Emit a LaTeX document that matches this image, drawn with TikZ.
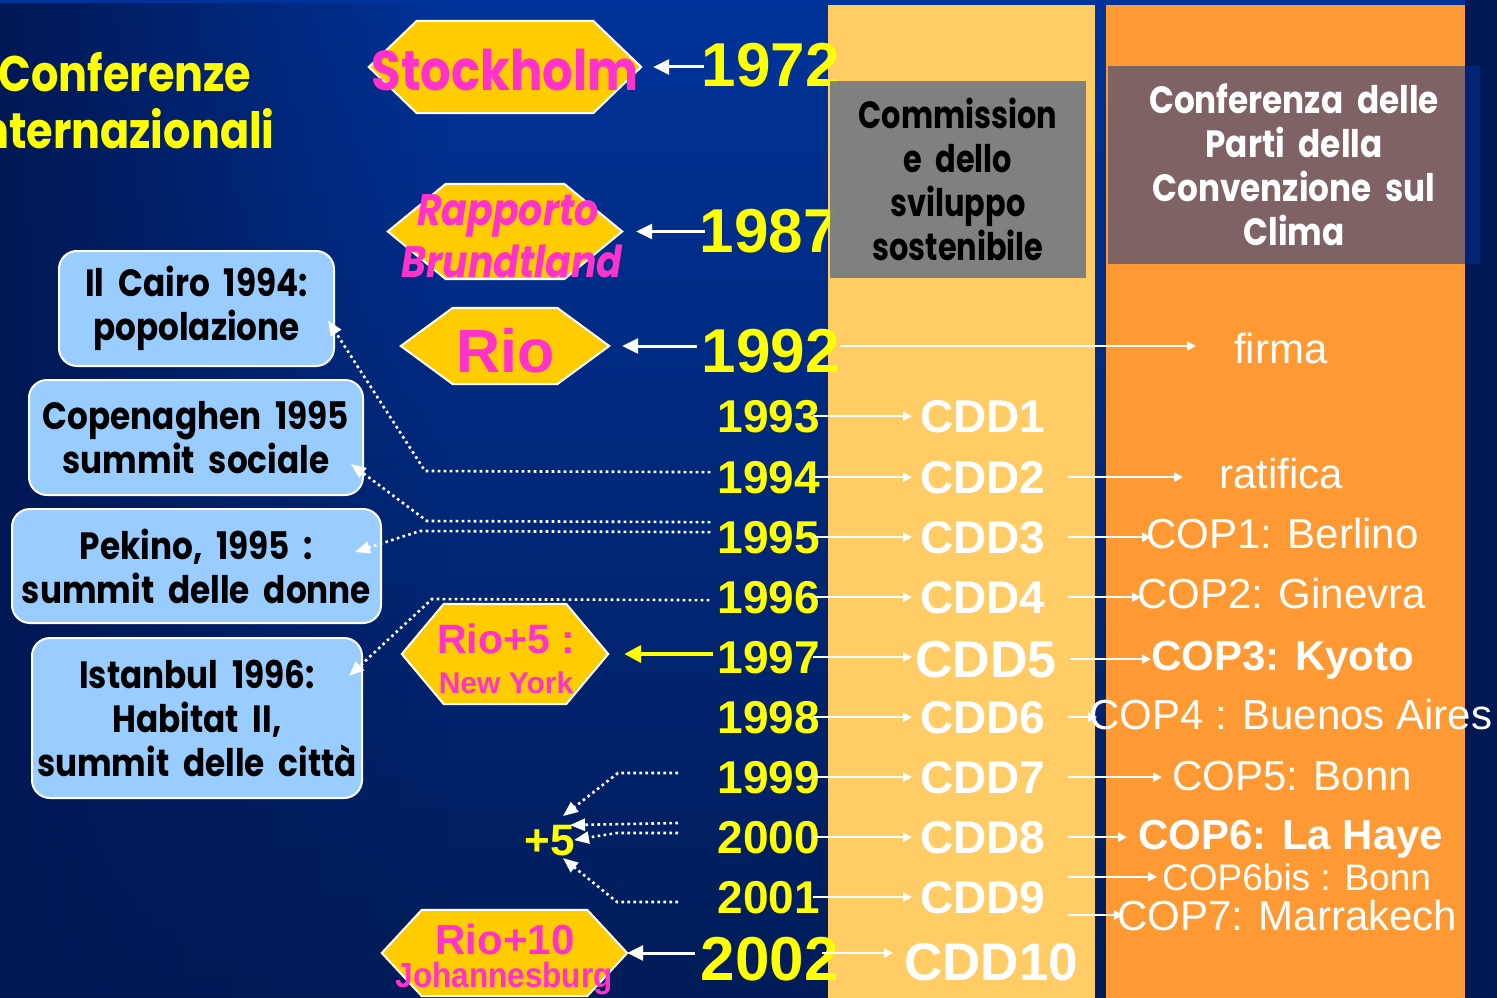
\documentclass[tikz,border=0pt]{standalone}
\usepackage{fontspec}
\setmainfont{Liberation Sans}
\newfontfamily\arialfont{Liberation Sans}
\newfontfamily\arialnarrow{Liberation Sans}[FakeStretch=0.9]
\newfontfamily\handfont{Poppins}[FakeStretch=0.86, WordSpace=2]
\newfontfamily\handnarrow{Poppins}[FakeStretch=0.8, WordSpace=2]
\usetikzlibrary{arrows.meta,calc,fadings}

\definecolor{bgtop}{RGB}{0,51,153}
\definecolor{bgbot}{RGB}{0,28,88}
\definecolor{bgedge}{RGB}{0,24,84}
\definecolor{cddcol}{RGB}{255,204,102}
\definecolor{copcol}{RGB}{255,153,51}
\definecolor{grayveil}{RGB}{96,109,135}
\definecolor{blueveil}{RGB}{0,47,149}
\definecolor{hexyellow}{RGB}{255,204,0}
\definecolor{hexpink}{RGB}{255,51,204}
\definecolor{boxblue}{RGB}{153,204,255}
\definecolor{yearyellow}{RGB}{255,255,0}

\tikzset{
  hexarea/.style={rectangle, inner sep=0pt, draw=none},
  hexfill/.style={fill=hexyellow, draw=white, line width=2pt},
  hexlabel/.style={text=hexpink, inner sep=0pt, anchor=base},
  yearsmall/.style={text=yearyellow, inner sep=0pt, anchor=base east,
    font=\arialfont\bfseries\fontsize{46}{46}\selectfont},
  yearbig/.style={yearsmall, font=\arialfont\bfseries\fontsize{62}{62}\selectfont},
  cddlabel/.style={text=white, inner sep=0pt, anchor=base west,
    font=\arialfont\bfseries\fontsize{46}{46}\selectfont},
  coplabel/.style={text=white, inner sep=0pt, anchor=base west,
    font=\arialfont\fontsize{42}{42}\selectfont},
  eventbox/.style={rectangle, rounded corners=18pt, fill=boxblue, draw=white,
    line width=2pt, text=black, align=center, inner sep=0pt,
    font=\handfont\bfseries\fontsize{38}{44}\selectfont},
  headbox/.style={rectangle, inner sep=0pt, align=center, text opacity=1,
    font=\handfont\bfseries\fontsize{38}{44}\selectfont},
  titletext/.style={text=yearyellow, inner sep=0pt, anchor=base,
    font=\handfont\bfseries\fontsize{50}{50}\selectfont},
  pointer/.style={draw=white, line width=3pt, -{Triangle[length=16pt,width=15pt]}},
  yellowpointer/.style={draw=yearyellow, line width=4pt, -{Triangle[length=17pt,width=17pt]}},
  thinpointer/.style={draw=white, line width=2.2pt, -{Triangle[length=9pt,width=9pt]}},
  dotpointer/.style={draw=white, line width=2.6pt, dash pattern=on 2.6pt off 3.4pt,
    -{Triangle[length=15pt,width=12pt]}},
}

% yellow hexagon drawn around an (invisible) rectangular node
\newcommand\hexoutline[2]{%
  \filldraw[hexfill] (#1.west) -- ($(#1.north west)+(#2,0)$) -- ($(#1.north east)+(-#2,0)$)
    -- (#1.east) -- ($(#1.south east)+(-#2,0)$) -- ($(#1.south west)+(#2,0)$) -- cycle;}

\begin{document}
\begin{tikzpicture}[x=1pt,y=-1pt]
\useasboundingbox (0,0) rectangle (1497,998);

% background
\shade[top color=bgtop, bottom color=bgbot] (0,0) rectangle (1497,998);
\fill[bgedge, path fading=east] (0,0) rectangle (450,998);
\fill[bgedge] (1465,0) rectangle (1497,998);

% the two columns
\fill[cddcol] (828,5) rectangle (1095,998);
\fill[copcol] (1106,5) rectangle (1465,998);

% title
\node[titletext] (title1) at (125,92) {Conferenze};
\node[titletext] (title2) at (121,148) {internazionali};

% conference hexagons
\node[hexarea, minimum width=272pt, minimum height=92pt] (stk) at (505,67) {};
\hexoutline{stk}{48}
\node[hexlabel, font=\handfont\bfseries\fontsize{56}{56}\selectfont] (stk-t) at (505,90) {Stockholm};

\node[hexarea, minimum width=234pt, minimum height=95pt] (rap) at (505,231.5) {};
\hexoutline{rap}{58}
\node[hexlabel, font=\handfont\bfseries\itshape\fontsize{44}{44}\selectfont] (rap-t1) at (508,225) {Rapporto};
\node[hexlabel, font=\handfont\bfseries\itshape\fontsize{44}{44}\selectfont] (rap-t2) at (512,277) {Brundtland};

\node[hexarea, minimum width=208pt, minimum height=76pt] (rio) at (505,346) {};
\hexoutline{rio}{52}
\node[hexlabel, font=\arialfont\bfseries\fontsize{61}{61}\selectfont] (rio-t) at (506,372) {Rio};

\node[hexarea, minimum width=206pt, minimum height=100pt] (rio5) at (505,654) {};
\hexoutline{rio5}{42}
\node[hexlabel, font=\arialfont\bfseries\fontsize{41}{41}\selectfont] (rio5-t1) at (506,653) {Rio+5 :};
\node[hexlabel, font=\arialfont\bfseries\fontsize{30}{30}\selectfont] (rio5-t2) at (506,693) {New York};

\node[hexarea, minimum width=245pt, minimum height=86pt] (rio10) at (504.5,953) {};
\hexoutline{rio10}{40}
\node[hexlabel, font=\arialfont\bfseries\fontsize{42}{42}\selectfont] (rio10-t1) at (505,954) {Rio+10};
\node[hexlabel, font=\arialnarrow\bfseries\fontsize{35}{35}\selectfont] (rio10-t2) at (504,987) {Johannesburg};

% side events
\node[eventbox, minimum width=275pt, minimum height=115pt] (cairo) at (196.5,308.5) {Il Cairo 1994:\\popolazione};
\node[eventbox, minimum width=334pt, minimum height=115pt] (copen) at (196,437.5) {Copenaghen 1995\\summit sociale};
\node[eventbox, minimum width=369pt, minimum height=114pt] (pekino) at (196.5,566) {Pekino, 1995 :\\summit delle donne};
\node[eventbox, minimum width=330pt, minimum height=160pt] (istanbul) at (197,718) {Istanbul 1996:\\Habitat II,\\summit delle città};

% years
\node[yearbig] (y1972) at (840,87) {1972};
\node[yearbig] (y1987) at (838,252) {1987};
\node[yearbig] (y1992) at (840,372) {1992};
\node[yearsmall] (y1993) at (820,432) {1993};
\node[yearsmall] (y1994) at (820,493) {1994};
\node[yearsmall] (y1995) at (820,553) {1995};
\node[yearsmall] (y1996) at (820,613) {1996};
\node[yearsmall] (y1997) at (820,673) {1997};
\node[yearsmall] (y1998) at (820,733) {1998};
\node[yearsmall] (y1999) at (820,793) {1999};
\node[yearsmall] (y2000) at (820,853) {2000};
\node[yearsmall] (y2001) at (820,913) {2001};
\node[yearbig] (y2002) at (839,980) {2002};
\node[text=yearyellow, inner sep=0pt, anchor=base,
  font=\arialfont\bfseries\fontsize{44}{44}\selectfont] (plus5) at (550,855) {+5};

% column headings
\node[headbox, fill=grayveil, fill opacity=0.8, text=black,
  font=\handnarrow\bfseries\fontsize{38}{44}\selectfont,
  minimum width=256pt, minimum height=197pt] (csd) at (958,179.5)
  {Commission\\e dello\\sviluppo\\sostenibile};
\node[headbox, fill=blueveil, fill opacity=0.5, text=white,
  minimum width=372pt, minimum height=198pt] (cop) at (1294,165)
  {Conferenza delle\\Parti della\\Convenzione sul\\Clima};

% CSD sessions
\node[cddlabel] (cdd1) at (920,432) {CDD1};
\node[cddlabel] (cdd2) at (920,493) {CDD2};
\node[cddlabel] (cdd3) at (920,553) {CDD3};
\node[cddlabel] (cdd4) at (920,613) {CDD4};
\node[cddlabel, font=\arialfont\bfseries\fontsize{52}{52}\selectfont] (cdd5) at (915,677) {CDD5};
\node[cddlabel] (cdd6) at (920,733) {CDD6};
\node[cddlabel] (cdd7) at (920,793) {CDD7};
\node[cddlabel] (cdd8) at (920,853) {CDD8};
\node[cddlabel] (cdd9) at (920,913) {CDD9};
\node[cddlabel, font=\arialfont\bfseries\fontsize{53}{53}\selectfont] (cdd10) at (904,980) {CDD10};

% climate convention milestones
\node[coplabel] (firma) at (1234,363) {firma};
\node[coplabel] (rat) at (1219,488) {ratifica};
\node[coplabel] (cop1) at (1146,548) {COP1: Berlino};
\node[coplabel] (cop2) at (1137,608) {COP2: Ginevra};
\node[coplabel, font=\arialfont\bfseries\fontsize{42}{42}\selectfont] (cop3) at (1151,670) {COP3: Kyoto};
\node[coplabel] (cop4) at (1089,729) {COP4 : Buenos Aires};
\node[coplabel] (cop5) at (1172,790) {COP5: Bonn};
\node[coplabel, font=\arialfont\bfseries\fontsize{42}{42}\selectfont] (cop6) at (1138,849) {COP6: La Haye};
\node[coplabel, font=\arialfont\fontsize{37}{37}\selectfont] (cop6b) at (1162,890) {COP6bis : Bonn};
\node[coplabel] (cop7) at (1117,930) {COP7: Marrakech};

% years pointing to the conferences
\draw[pointer, shorten <=-2pt, shorten >=12pt] (y1972.west |- stk.east) -- (stk.east);
\draw[pointer, shorten <=-5pt, shorten >=14pt] (y1987.west |- rap.east) -- (rap.east);
\draw[pointer, shorten <=5pt, shorten >=13pt] (y1992.west |- rio.east) -- (rio.east);
\draw[yellowpointer, shorten <=4pt, shorten >=16pt] (y1997.west |- rio5.east) -- (rio5.east);
\draw[pointer, shorten <=6pt, shorten >=0pt] (y2002.west |- rio10.east) -- (rio10.east);

% years to CSD sessions
\draw[thinpointer, shorten <=-7pt, shorten >=8pt] (y1993.east) -- (cdd1.west |- y1993.east);
\draw[thinpointer, shorten <=-7pt, shorten >=8pt] (y1994.east) -- (cdd2.west |- y1994.east);
\draw[thinpointer, shorten <=-7pt, shorten >=8pt] (y1995.east) -- (cdd3.west |- y1995.east);
\draw[thinpointer, shorten <=-7pt, shorten >=8pt] (y1996.east) -- (cdd4.west |- y1996.east);
\draw[thinpointer, shorten <=-7pt, shorten >=3pt] (y1997.east) -- (cdd5.west |- y1997.east);
\draw[thinpointer, shorten <=-7pt, shorten >=8pt] (y1998.east) -- (cdd6.west |- y1998.east);
\draw[thinpointer, shorten <=-7pt, shorten >=8pt] (y1999.east) -- (cdd7.west |- y1999.east);
\draw[thinpointer, shorten <=-7pt, shorten >=8pt] (y2000.east) -- (cdd8.west |- y2000.east);
\draw[thinpointer, shorten <=-7pt, shorten >=8pt] (y2001.east) -- (cdd9.west |- y2001.east);
\draw[thinpointer, shorten <=-17pt, shorten >=11pt] (y2002.east |- rio10.east) -- (cdd10.west |- rio10.east);

% convention steps
\draw[thinpointer, shorten >=38pt] (y1992.east |- rio.east) -- (firma.west |- rio.east);
\draw[thinpointer, shorten <=22pt, shorten >=36pt] (cdd2.east) -- (rat.west |- cdd2.east);
\draw[thinpointer, shorten <=22pt, shorten >=-5pt] (cdd3.east) -- (cop1.west |- cdd3.east);
\draw[thinpointer, shorten <=22pt, shorten >=-4pt] (cdd4.east) -- (cop2.west |- cdd4.east);
\draw[thinpointer, shorten <=13pt, shorten >=0pt] (cdd5.east) -- (cop3.west |- cdd5.east);
\draw[thinpointer, shorten <=22pt, shorten >=-8pt] (cdd6.east) -- (cop4.west |- cdd6.east);
\draw[thinpointer, shorten <=22pt, shorten >=10pt] (cdd7.east) -- (cop5.west |- cdd7.east);
\draw[thinpointer, shorten <=22pt, shorten >=11pt] (cdd8.east) -- (cop6.west |- cdd8.east);
\draw[thinpointer, shorten <=22pt, shorten >=5pt] (cdd9.east |- cop6b.west) -- (cop6b.west);
\draw[thinpointer, shorten <=22pt, shorten >=-6pt] (cdd9.east |- cop7.west) -- (cop7.west);

% dotted links to the side events
\coordinate (s94) at ($(y1994.west)+(-7,-5)$);
\coordinate (s95a) at ($(y1995.west)+(-7,-15)$);
\coordinate (s95b) at ($(y1995.west)+(-7,-5)$);
\coordinate (s96) at ($(y1996.west)+(-8,3)$);
\draw[dotpointer] (s94) -- (425,471) -- ($(cairo.east)+(-7,12)$);
\draw[dotpointer] (s95a) -- (427,521) -- ($(copen.east)+(-13,26.5)$);
\draw[dotpointer] (s95b) -- (420,531) -- ($(pekino.east)+(-27,-14)$);
\draw[dotpointer] (s96) -- (432,599) -- ($(istanbul.east)+(-14,-42)$);

% dotted links gathering the five years after Rio
\coordinate (q1) at (678,773);
\coordinate (q2) at (678,823);
\coordinate (q3) at (678,833);
\coordinate (q4) at (678,902);
\draw[dotpointer] (q1) -- (618,773) -- ($(plus5.center)+(13,-24)$);
\draw[dotpointer] (q2) -- ($(plus5.center)+(20,-15)$);
\draw[dotpointer] (q3) -- (617,833) -- (592,837) -- ($(plus5.center)+(24,0)$);
\draw[dotpointer] (q4) -- (617,902) -- ($(plus5.center)+(13,18)$);
\end{tikzpicture}
\end{document}
